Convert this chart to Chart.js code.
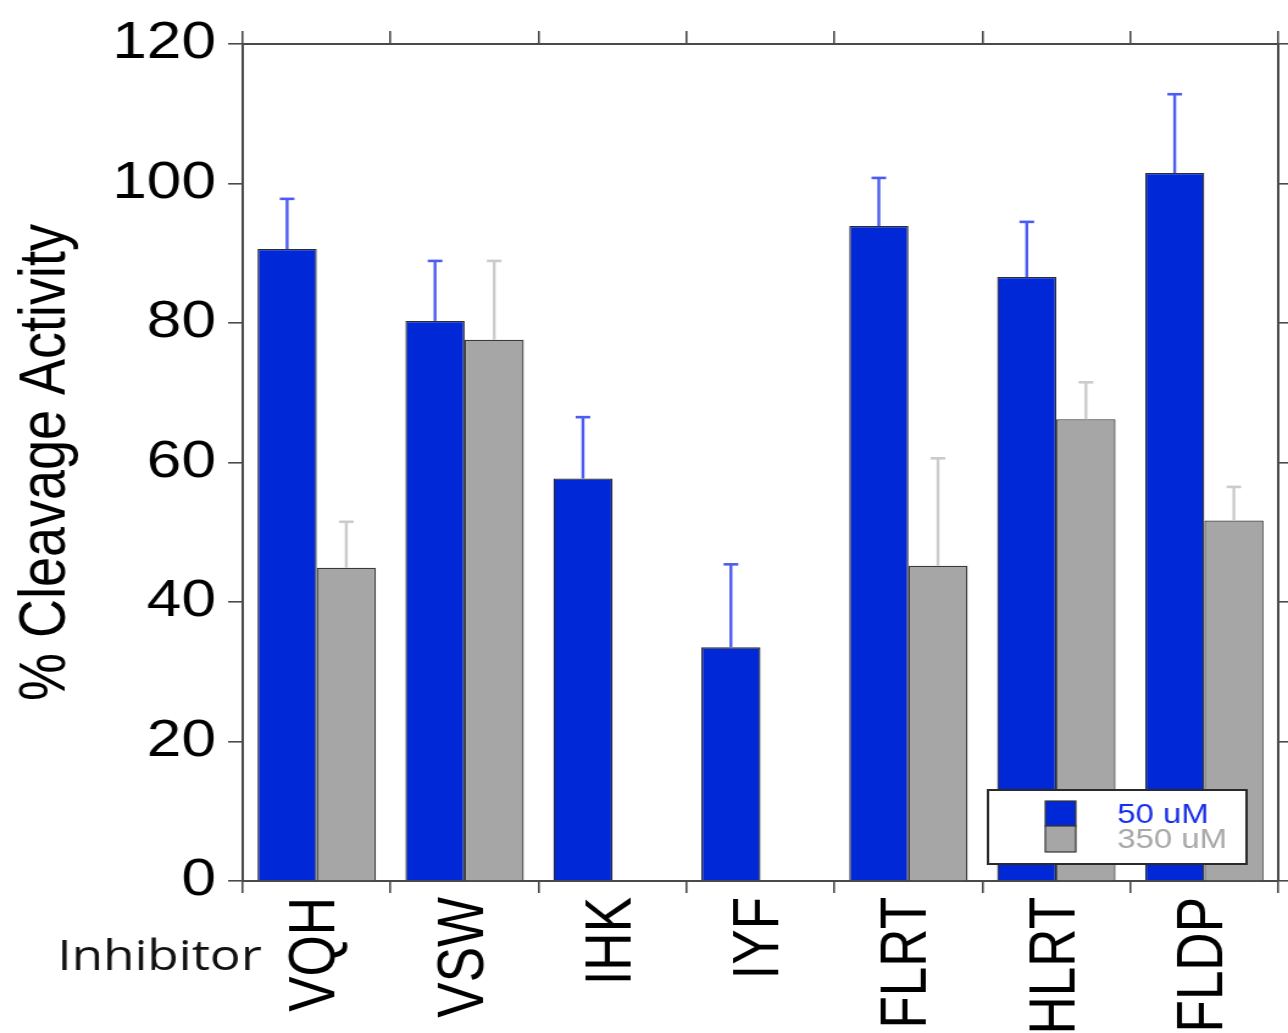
<!DOCTYPE html>
<html>
<head>
<meta charset="utf-8">
<script src="https://cdn.jsdelivr.net/npm/chart.js@4/dist/chart.umd.min.js"></script>
<style>
  html, body { margin: 0; padding: 0; background: #fff; overflow: hidden; }
  #c { display: block; }
</style>
</head>
<body>
<canvas id="c" width="1056" height="1033" style="width:1288px;height:1033px"></canvas>
<script>
// Inhibitor panel and measured cleavage activity (% of control)
const inhibitors = ['VQH', 'VSW', 'IHK', 'IYF', 'FLRT', 'HLRT', 'FLDP'];
const activity50 = [90.6, 80.3, 57.7, 33.5, 93.9, 86.6, 101.5];
const error50 = [7.2, 8.6, 8.8, 11.9, 6.9, 7.9, 11.3];
const activity350 = [44.9, 77.6, null, null, 45.2, 66.2, 51.7];
const error350 = [6.6, 11.3, null, null, 15.4, 5.3, 4.8];
const seriesNames = ['50 uM', '350 uM'];
const yMin = 0, yMax = 120, yStep = 20;

const BLUE = '#0028d6';
const GRAY = '#a6a6a6';
const AXIS = '#4a4a4a';

// Upper error whiskers above each bar
const errorBars = {
  id: 'errorBars',
  afterDatasetsDraw(chart) {
    const ctx = chart.ctx;
    const yScale = chart.scales.y;
    chart.data.datasets.forEach((ds, i) => {
      const meta = chart.getDatasetMeta(i);
      meta.data.forEach((bar, j) => {
        const v = ds.data[j];
        const e = ds.errors[j];
        if (v == null || e == null) return;
        const yTop = yScale.getPixelForValue(v + e);
        const yBase = yScale.getPixelForValue(v);
        ctx.save();
        ctx.strokeStyle = ds.errorColor;
        ctx.lineWidth = 2.4;
        ctx.beginPath();
        ctx.moveTo(bar.x, yBase);
        ctx.lineTo(bar.x, yTop);
        ctx.stroke();
        ctx.lineWidth = 2.6;
        ctx.beginPath();
        ctx.moveTo(bar.x - 6, yTop);
        ctx.lineTo(bar.x + 6, yTop);
        ctx.stroke();
        ctx.restore();
      });
    });
  }
};

// Boxed legend in the lower right and the "Inhibitor" row label
const annotations = {
  id: 'annotations',
  afterDraw(chart) {
    const ctx = chart.ctx;
    const ds = chart.data.datasets;
    ctx.save();
    // legend frame
    const bx = 810, by = 790, bw = 212, bh = 74;
    ctx.fillStyle = '#fff';
    ctx.fillRect(bx, by, bw, bh);
    ctx.strokeStyle = '#2a2a2a';
    ctx.lineWidth = 2;
    ctx.strokeRect(bx, by, bw, bh);
    // swatches
    ctx.lineWidth = 1.2;
    ctx.strokeStyle = '#333';
    ctx.fillStyle = ds[0].backgroundColor;
    ctx.fillRect(857, 801, 25, 25);
    ctx.strokeRect(857, 801, 25, 25);
    ctx.fillStyle = ds[1].backgroundColor;
    ctx.fillRect(857, 826, 25, 26);
    ctx.strokeRect(857, 826, 25, 26);
    // labels
    ctx.font = '27px "Liberation Sans", Arial, sans-serif';
    ctx.textAlign = 'left';
    ctx.textBaseline = 'alphabetic';
    ctx.fillStyle = '#1a30e8';
    ctx.fillText(ds[0].label, 916, 823);
    ctx.fillStyle = '#a8a8a8';
    ctx.fillText(ds[1].label, 916, 848);
    // category row label
    ctx.fillStyle = '#111';
    ctx.font = '42px "Open Sans", "Noto Sans", sans-serif';
    ctx.fillText('Inhibitor', 47, 970);
    ctx.restore();
  }
};

const gridOpts = (len) => ({
  display: true,
  drawOnChartArea: false,
  drawTicks: true,
  tickLength: len,
  color: AXIS,
  lineWidth: 1.6,
  offset: true
});

new Chart(document.getElementById('c'), {
  type: 'bar',
  data: {
    labels: inhibitors,
    datasets: [
      {
        label: seriesNames[0],
        data: activity50,
        errors: error50,
        errorColor: '#4d5cf0',
        backgroundColor: BLUE,
        borderColor: '#2b2b2b',
        borderWidth: 1.3,
        categoryPercentage: 0.8,
        barPercentage: 1.0
      },
      {
        label: seriesNames[1],
        data: activity350,
        errors: error350,
        errorColor: '#cbcbcb',
        backgroundColor: GRAY,
        borderColor: '#3a3a3a',
        borderWidth: 1.3,
        categoryPercentage: 0.8,
        barPercentage: 1.0
      }
    ]
  },
  options: {
    responsive: false,
    maintainAspectRatio: false,
    devicePixelRatio: 1,
    animation: false,
    layout: { padding: 0 },
    plugins: {
      legend: { display: false },
      tooltip: { enabled: false }
    },
    scales: {
      x: {
        type: 'category',
        position: 'bottom',
        offset: true,
        grid: gridOpts(12),
        border: { display: true, color: AXIS, width: 2 },
        ticks: {
          autoSkip: false,
          minRotation: 90,
          maxRotation: 90,
          padding: 4,
          color: '#000',
          font: { family: '"Liberation Sans", Arial, sans-serif', size: 53 }
        },
        afterFit(s) { s.height = 152; }
      },
      x2: {
        type: 'category',
        position: 'top',
        labels: inhibitors,
        offset: true,
        grid: gridOpts(13),
        border: { display: true, color: AXIS, width: 2 },
        ticks: { display: false },
        afterFit(s) { s.height = 44; }
      },
      y: {
        type: 'linear',
        position: 'left',
        min: yMin,
        max: yMax,
        grid: { display: true, drawOnChartArea: false, drawTicks: true, tickLength: 12, color: AXIS, lineWidth: 1.6 },
        border: { display: true, color: AXIS, width: 2 },
        ticks: {
          stepSize: yStep,
          padding: 10,
          color: '#000',
          font: { family: '"Liberation Sans", Arial, sans-serif', size: 51 }
        },
        title: {
          display: true,
          text: '% Cleavage Activity',
          color: '#000',
          font: { family: '"Liberation Sans", Arial, sans-serif', size: 54 },
          padding: { top: 6, bottom: 0 }
        },
        afterFit(s) { s.width = 199; }
      },
      y2: {
        type: 'linear',
        position: 'right',
        min: yMin,
        max: yMax,
        grid: { display: true, drawOnChartArea: false, drawTicks: true, tickLength: 8, color: AXIS, lineWidth: 1.6 },
        border: { display: true, color: AXIS, width: 2 },
        ticks: { display: false, stepSize: yStep },
        afterFit(s) { s.width = 8; }
      }
    }
  },
  plugins: [errorBars, annotations]
});
</script>
</body>
</html>
